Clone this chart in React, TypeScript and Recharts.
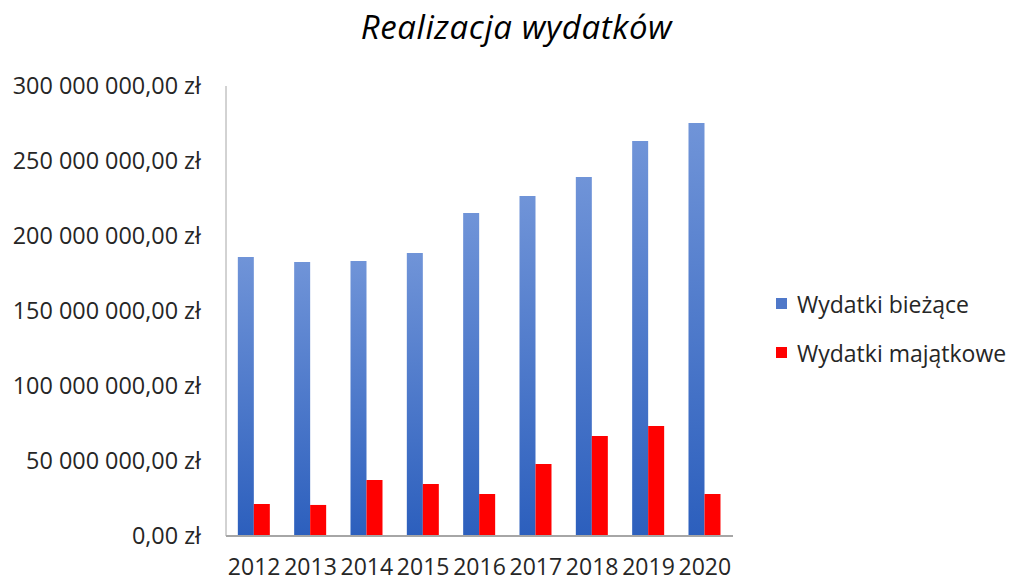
import React from 'react';
import { BarChart, Bar, XAxis, YAxis } from 'recharts';

const YEARS = ['2012', '2013', '2014', '2015', '2016', '2017', '2018', '2019', '2020'];
// wartości w zł
const CURRENT = [186000000, 182700000, 183300000, 188700000, 215300000, 226700000, 239300000, 263300000, 275300000];
const ASSET = [21300000, 20700000, 37300000, 34700000, 28000000, 48000000, 66700000, 73300000, 28000000];
const Y_TICKS = [0, 50000000, 100000000, 150000000, 200000000, 250000000, 300000000];

const SERIES = [
  { key: 'current', name: 'Wydatki bieżące', color: '#4f78c9', fill: 'url(#blueGrad)' },
  { key: 'asset', name: 'Wydatki majątkowe', color: '#FF0000', fill: '#FF0000' },
];

const FONT = '"Open Sans", sans-serif';
const TEXT = '#262626';

const data = YEARS.map((year, i) => ({ year, current: CURRENT[i], asset: ASSET[i] }));

const formatZl = (v: number) => {
  const s = Math.round(v).toString().replace(/\B(?=(\d{3})+(?!\d))/g, ' ');
  return `${s},00 zł`;
};

export default function App() {
  return (
    <div style={{ position: 'absolute', left: 0, top: 0, width: 1015, height: 581, background: '#fff', fontFamily: FONT }}>
      <div
        style={{
          position: 'absolute',
          left: 9,
          top: 4,
          width: 1015,
          textAlign: 'center',
          fontSize: 33,
          fontStyle: 'italic',
          letterSpacing: 0.6,
          color: '#000',
        }}
      >
        Realizacja wydatków
      </div>

      {/* legenda */}
      <div style={{ position: 'absolute', left: 776, top: 279, fontSize: 23, color: TEXT }}>
        {SERIES.map((s) => (
          <div key={s.key} style={{ display: 'flex', alignItems: 'center', height: 49 }}>
            <span style={{ width: 11, height: 11, background: s.color, marginRight: 10 }} />
            <span>{s.name}</span>
          </div>
        ))}
      </div>

      <BarChart
        width={1015}
        height={581}
        data={data}
        margin={{ top: 86, right: 282, left: 0, bottom: 0 }}
        barCategoryGap="21%"
        barGap={0}
      >
        <defs>
          <linearGradient id="blueGrad" x1="0" y1="0" x2="0" y2="1">
            <stop offset="0%" stopColor="#7094d8" />
            <stop offset="100%" stopColor="#2c5fbd" />
          </linearGradient>
        </defs>
        <XAxis
          dataKey="year"
          height={45}
          tickLine={false}
          tickSize={0}
          tickMargin={23}
          axisLine={{ stroke: '#a6a6a6', strokeWidth: 2 }}
          tick={{ fontSize: 23, fill: TEXT, fontFamily: FONT }}
          interval={0}
        />
        <YAxis
          width={226}
          domain={[0, 300000000]}
          ticks={Y_TICKS}
          tickFormatter={formatZl}
          tickLine={false}
          tickSize={0}
          tickMargin={25}
          axisLine={{ stroke: '#a6a6a6', strokeWidth: 1 }}
          tick={{ fontSize: 23.4, fill: TEXT, fontFamily: FONT }}
          interval={0}
        />
        {SERIES.map((s) => (
          <Bar key={s.key} dataKey={s.key} name={s.name} fill={s.fill} isAnimationActive={false} />
        ))}
      </BarChart>
    </div>
  );
}
